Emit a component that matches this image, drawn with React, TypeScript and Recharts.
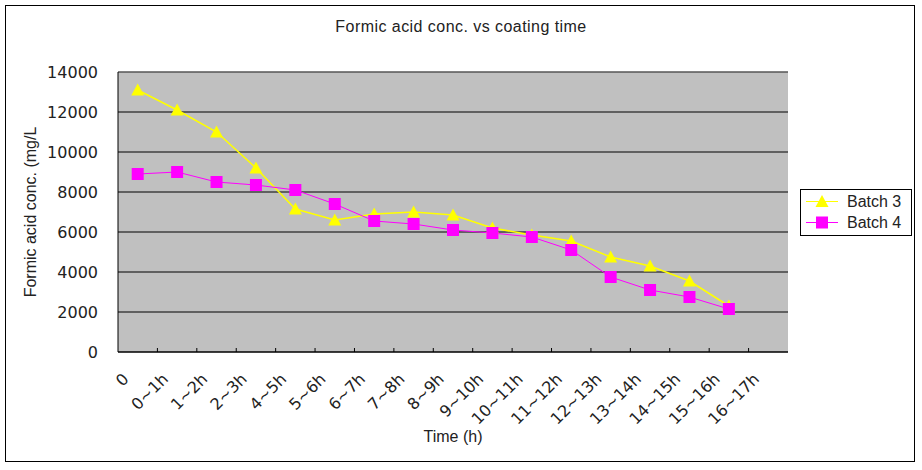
import React from "react";
import { CartesianGrid, Line, LineChart, ReferenceLine, XAxis, YAxis } from "recharts";

const categories = [
  "0", "0~1h", "1~2h", "2~3h", "4~5h", "5~6h", "6~7h", "7~8h", "8~9h",
  "9~10h", "10~11h", "11~12h", "12~13h", "13~14h", "14~15h", "15~16h", "16~17h",
];
const batch3 = [13100, 12100, 11000, 9200, 7150, 6600, 6900, 7000, 6850, 6200, 5850, 5550, 4750, 4300, 3550, 2300, null];
const batch4 = [8900, 9000, 8500, 8350, 8100, 7400, 6550, 6400, 6100, 5950, 5750, 5100, 3750, 3100, 2750, 2150, null];
const yTicks = [0, 2000, 4000, 6000, 8000, 10000, 12000, 14000];

const data = categories.map((c, i) => ({ time: c, b3: batch3[i], b4: batch4[i] }));

const YELLOW = "#FFFF00";
const MAGENTA = "#FF00FF";
const TICK_FONT = "'DejaVu Sans', sans-serif";
const TEXT_FONT = "'Liberation Sans', Arial, sans-serif";

const PLOT_LEFT = 118;
const PLOT_RIGHT = 788;
const BAND = (PLOT_RIGHT - PLOT_LEFT) / categories.length;

function Triangle(props: any) {
  const { cx, cy } = props;
  if (cx == null || cy == null || props.value == null) return null;
  return <path d={`M${cx},${cy - 6.5} L${cx + 6.5},${cy + 5.5} L${cx - 6.5},${cy + 5.5} Z`} fill={YELLOW} />;
}

function Square(props: any) {
  const { cx, cy } = props;
  if (cx == null || cy == null || props.value == null) return null;
  return <rect x={cx - 6} y={cy - 6} width={12} height={12} fill={MAGENTA} />;
}

function TimeTick(props: any) {
  const { x, y, payload, index } = props;
  const left = x - BAND / 2;
  return (
    <g>
      {index > 0 && <line x1={left} x2={left} y1={y} y2={y - 4} stroke="#000" />}
      <text
        x={x - 8}
        y={y + 28}
        transform={`rotate(-45 ${x - 8} ${y + 28})`}
        textAnchor="end"
        fontFamily={TICK_FONT}
        fontSize={16}
        fill="#222"
      >
        {payload.value}
      </text>
    </g>
  );
}

function YTitle(props: any) {
  const { viewBox } = props;
  const cy = viewBox.y + viewBox.height / 2;
  return (
    <text
      x={36}
      y={cy}
      transform={`rotate(-90 36 ${cy})`}
      textAnchor="middle"
      fontFamily={TEXT_FONT}
      fontSize={16}
      fill="#222"
    >
      Formic acid conc. (mg/L
    </text>
  );
}

function XTitle(props: any) {
  const { viewBox } = props;
  const cx = viewBox.x + viewBox.width / 2;
  return (
    <text x={cx} y={442} textAnchor="middle" fontFamily={TEXT_FONT} fontSize={16} fill="#222">
      Time (h)
    </text>
  );
}

function LegendRow({ color, label, marker }: { color: string; label: string; marker: "tri" | "sq" }) {
  return (
    <div style={{ display: "flex", alignItems: "center", height: 21 }}>
      <svg width={38} height={21}>
        <line x1={5} x2={37} y1={10.5} y2={10.5} stroke={color} strokeWidth={1} />
        {marker === "tri" ? (
          <path d="M21,4 L27.5,16 L14.5,16 Z" fill={color} />
        ) : (
          <rect x={15} y={4.5} width={12} height={12} fill={color} />
        )}
      </svg>
      <span style={{ marginLeft: 8, fontFamily: TEXT_FONT, fontSize: 16, color: "#222" }}>{label}</span>
    </div>
  );
}

export default function App() {
  return (
    <div style={{ position: "absolute", left: 0, top: 0, width: 922, height: 470, background: "#fff" }}>
      <div
        style={{
          position: "absolute",
          left: 0,
          width: 922,
          top: 18,
          textAlign: "center",
          fontFamily: TEXT_FONT,
          fontSize: 16,
          letterSpacing: 0.45,
          color: "#222",
        }}
      >
        Formic acid conc. vs coating time
      </div>
      <div style={{ position: "absolute", left: 0, top: 0 }}>
        <LineChart width={922} height={470} data={data} margin={{ top: 72, right: 134, bottom: 0, left: 0 }}>
          <CartesianGrid vertical={false} stroke="#000" fill="#C0C0C0" fillOpacity={1} />
          <XAxis
            dataKey="time"
            scale="band"
            interval={0}
            height={118}
            tickLine={false}
            tickSize={0}
            tickMargin={0}
            axisLine={{ stroke: "#000" }}
            tick={<TimeTick />}
            label={<XTitle />}
          />
          <YAxis
            domain={[0, 14000]}
            ticks={yTicks}
            width={118}
            tickLine={false}
            tickSize={0}
            tickMargin={20}
            axisLine={{ stroke: "#000" }}
            tick={{ fontFamily: TICK_FONT, fontSize: 16, fill: "#222" }}
            label={<YTitle />}
          />
          <YAxis yAxisId="right" orientation="right" width={0} tick={false} tickLine={false} axisLine={{ stroke: "#808080" }} />
          <ReferenceLine y={14000} stroke="#808080" />
          <Line
            dataKey="b3"
            name="Batch 3"
            stroke={YELLOW}
            strokeWidth={1.5}
            dot={<Triangle />}
            activeDot={false}
            isAnimationActive={false}
          />
          <Line
            dataKey="b4"
            name="Batch 4"
            stroke={MAGENTA}
            strokeWidth={1}
            dot={<Square />}
            activeDot={false}
            isAnimationActive={false}
          />
        </LineChart>
      </div>
      <div
        style={{
          position: "absolute",
          left: 800,
          top: 189,
          width: 112,
          height: 47,
          border: "1px solid #000",
          boxSizing: "border-box",
          background: "#fff",
          paddingTop: 1,
        }}
      >
        <LegendRow color={YELLOW} label="Batch 3" marker="tri" />
        <LegendRow color={MAGENTA} label="Batch 4" marker="sq" />
      </div>
      <div
        style={{
          position: "absolute",
          left: 5,
          top: 5,
          width: 910,
          height: 457,
          border: "1px solid #000",
          boxSizing: "border-box",
          pointerEvents: "none",
          zIndex: 5,
        }}
      />
    </div>
  );
}
